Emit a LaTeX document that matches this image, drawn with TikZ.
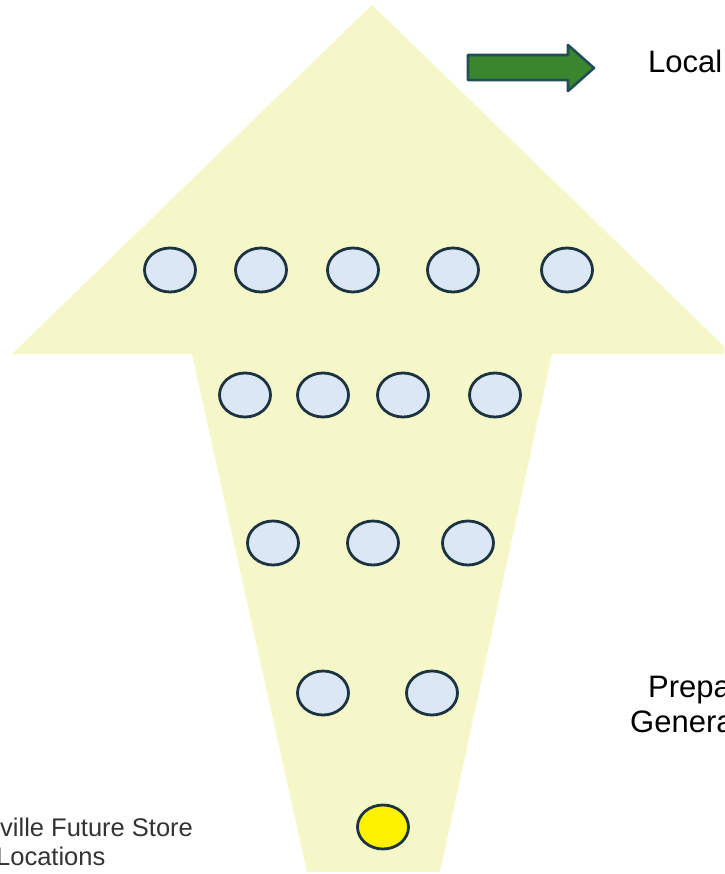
\documentclass[tikz,border=0pt]{standalone}
\usepackage{fontspec}
\setmainfont{Liberation Sans}
\usetikzlibrary{shapes.geometric}

\definecolor{paleyellow}{RGB}{245,247,201}
\definecolor{spotblue}{RGB}{220,231,246}
\definecolor{spotline}{RGB}{28,52,66}
\definecolor{goalgreen}{RGB}{58,134,44}
\definecolor{goalline}{RGB}{34,78,88}

\begin{document}
\begin{tikzpicture}[
  x=1pt, y=-1pt,
  spot/.style={draw=spotline, line width=2.8pt, fill=spotblue, ellipse, minimum width=51pt, minimum height=44pt, inner sep=0pt},
  store/.style={spot, fill=yellow},
  label/.style={font=\fontsize{31}{37}\selectfont, anchor=base west, inner sep=0pt},
  note/.style={font=\fontsize{25.5}{30}\selectfont, text=black!80, anchor=base west, inner sep=0pt}
]
\path[use as bounding box, clip] (0,0) rectangle (724,874);
% big arrow
\fill[paleyellow] (372,5) -- (732,354) -- (552,354) -- (440,872) -- (307,872)
  -- (192,354) -- (12,354) -- cycle;
% green arrow
\filldraw[fill=goalgreen, draw=goalline, line width=2.6pt, line join=round]
  (468,55) -- (568,55) -- (568,45) -- (594,68) -- (568,91) -- (568,80) -- (468,80) -- cycle;
\node[label] (local) at (648,73) {Local};
% top row
\node[spot] (a1) at (170,270) {};
\node[spot] (a2) at (261,270) {};
\node[spot] (a3) at (353,270) {};
\node[spot] (a4) at (453,270) {};
\node[spot] (a5) at (567,270) {};
% second row
\node[spot] (b1) at (245,395) {};
\node[spot] (b2) at (323,395) {};
\node[spot] (b3) at (403,395) {};
\node[spot] (b4) at (495,395) {};
% third row
\node[spot] (c1) at (273,543) {};
\node[spot] (c2) at (373,543) {};
\node[spot] (c3) at (468,543) {};
% fourth row
\node[spot] (d1) at (323,693) {};
\node[spot] (d2) at (432,693) {};
% the store
\node[store] (home) at (383,827) {};
\node[label] (prep) at (648,697) {Prepa};
\node[label] (gen) at (630,732) {Genera};
\node[note] (fut) at (0,836) {ville Future Store};
\node[note] (loc) at (-4,865) {Locations};
\end{tikzpicture}
\end{document}
